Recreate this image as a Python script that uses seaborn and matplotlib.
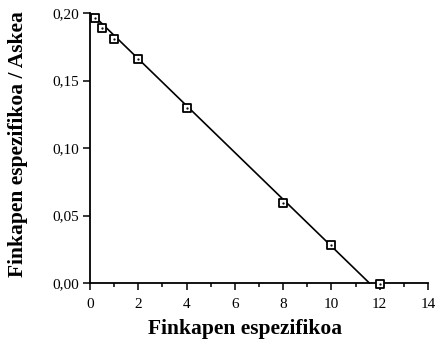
import matplotlib
matplotlib.use("Agg")
import matplotlib.pyplot as plt
import seaborn as sns
import pandas as pd
import numpy as np

# Data
x_vals = [0.2, 0.5, 1.0, 2.0, 4.0, 8.0, 10.0, 12.0]
y_vals = [0.1965, 0.189, 0.1805, 0.166, 0.1295, 0.059, 0.028, -0.0007]
fit_x = [0.1, 11.57]
fit_y = [0.199, 0.0]
x_ticks = [0, 2, 4, 6, 8, 10, 12, 14]
y_ticks = [0.00, 0.05, 0.10, 0.15, 0.20]
y_tick_labels = ["0,00", "0,05", "0,10", "0,15", "0,20"]
x_label = "Finkapen espezifikoa"
y_label = "Finkapen espezifikoa / Askea"

sns.set_theme(style="ticks")
plt.rcParams["font.family"] = ["Liberation Serif", "DejaVu Serif"]

fig = plt.figure(figsize=(4.36, 3.44), dpi=100)
ax = fig.add_axes([90 / 436, 1 - 283 / 344, 338 / 436, 270 / 344])

pts = pd.DataFrame({"x": x_vals, "y": y_vals})
fit = pd.DataFrame({"x": fit_x, "y": fit_y})

sns.lineplot(data=fit, x="x", y="y", ax=ax, color="black", linewidth=1.2,
             zorder=2, clip_on=False)
sns.scatterplot(data=pts, x="x", y="y", ax=ax, marker="s", s=32,
                facecolor="white", edgecolor="black", linewidth=1.3,
                zorder=3, clip_on=False)
ax.scatter(pts["x"], pts["y"], marker=".", s=1.5, color="black", zorder=4,
           clip_on=False)

ax.set_xlim(0, 14)
ax.set_ylim(0, 0.2)
ax.set_xticks(x_ticks)
ax.set_xticks(np.arange(1, 14, 2), minor=True)
ax.set_xticklabels([str(t) for t in x_ticks])
ax.set_yticks(y_ticks)
ax.set_yticklabels(y_tick_labels)

for s in ["top", "right"]:
    ax.spines[s].set_visible(False)
for s in ["left", "bottom"]:
    ax.spines[s].set_linewidth(1.3)
    ax.spines[s].set_color("black")

ax.tick_params(axis="both", which="major", direction="out", length=5,
               width=1.1, color="black", labelsize=11, labelcolor="black", pad=3)
ax.tick_params(axis="x", which="major", pad=6)
ax.tick_params(axis="x", which="minor", direction="out", length=3,
               width=1.1, color="black")

ax.set_xlabel(x_label, fontsize=15.5, fontweight="bold", color="black")
ax.set_ylabel(y_label, fontsize=15.5, fontweight="bold", color="black")
ax.xaxis.set_label_coords((245 - 90) / 338, -(329 - 283) / 270)
ax.yaxis.set_label_coords(-(90 - 18) / 338, (283 - 144) / 270)
ax.xaxis.label.set_va("center")
ax.yaxis.label.set_va("center")
ax.grid(False)
ax.set_facecolor("white")

fig.savefig("out.png", dpi=100, facecolor="white")
